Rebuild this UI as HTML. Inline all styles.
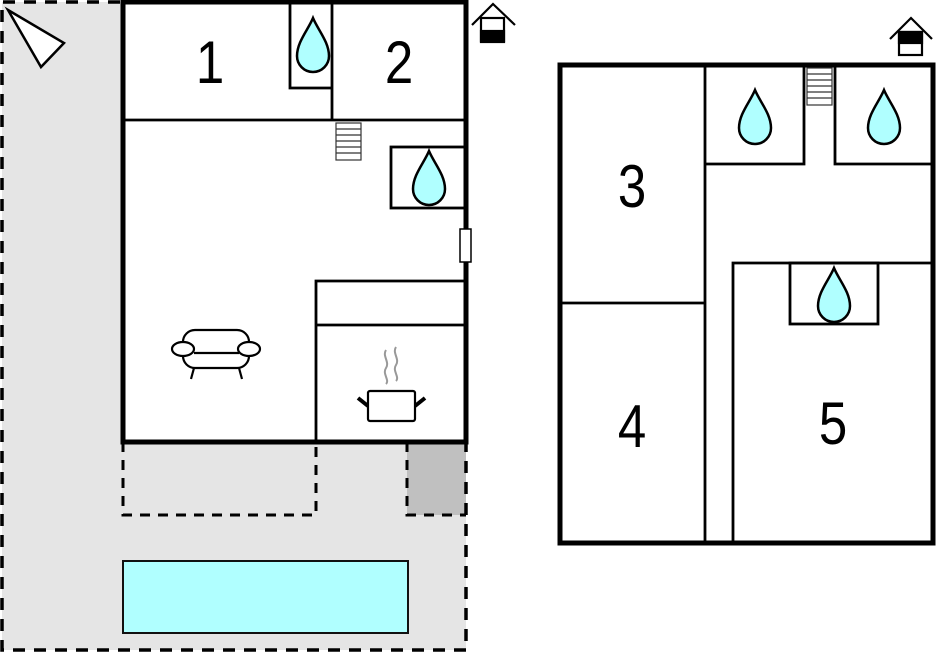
<!DOCTYPE html>
<html><head><meta charset="utf-8"><style>
html,body{margin:0;padding:0;background:#fff;width:936px;height:652px;overflow:hidden}
svg{display:block}
text{font-family:"Liberation Sans",sans-serif;font-size:60px;fill:#000;text-anchor:middle}
</style></head><body>
<svg width="936" height="652" viewBox="0 0 936 652" xmlns="http://www.w3.org/2000/svg">
<defs>
<path id="drop" d="M0,-28 C-5,-16 -16,-4 -16,10 A16,16 0 0 0 16,10 C16,-4 5,-16 0,-28 Z" fill="#b0ffff" stroke="#000" stroke-width="2.5"/>
<g id="stairs" fill="#fff" stroke="#333" stroke-width="1.2">
<rect x="0" y="0" width="25" height="37"/>
<line x1="0" y1="6" x2="25" y2="6"/><line x1="0" y1="12" x2="25" y2="12"/><line x1="0" y1="18" x2="25" y2="18"/><line x1="0" y1="24" x2="25" y2="24"/><line x1="0" y1="30" x2="25" y2="30"/>
</g>
</defs>
<path d="M2,2 H123 V442 H466 V650 H2 Z" fill="#e5e5e5"/>
<rect x="407" y="442" width="59" height="73" fill="#c0c0c0"/>
<path d="M120,2 H2 V650 H466 V442" fill="none" stroke="#000" stroke-width="3.5" stroke-dasharray="12,9"/>
<path d="M123,442 V515 H316 V442" fill="none" stroke="#000" stroke-width="3" stroke-dasharray="10,8"/>
<path d="M407,442 V515 H466" fill="none" stroke="#000" stroke-width="3" stroke-dasharray="10,8"/>
<rect x="123" y="561" width="285" height="72" fill="#b0ffff" stroke="#111" stroke-width="2"/>
<polygon points="8,10 64,43 41,67" fill="#fff" stroke="#000" stroke-width="2.5"/>
<rect x="125" y="4" width="340" height="437" fill="#fff"/>
<g stroke="#000" stroke-width="2.8" fill="none">
<line x1="123" y1="120" x2="466" y2="120"/>
<line x1="332" y1="2" x2="332" y2="120"/>
<path d="M290,2 V88 H332"/>
<rect x="391" y="147" width="74" height="61"/>
<path d="M466,281 H316 V442"/>
<line x1="316" y1="325" x2="466" y2="325"/>
</g>
<use href="#stairs" x="336" y="123"/>
<use href="#drop" x="313" y="46"/>
<use href="#drop" x="429" y="179"/>
<rect x="123" y="2" width="343" height="440" fill="none" stroke="#000" stroke-width="5"/>
<rect x="460" y="229" width="11" height="33" fill="#fff" stroke="#000" stroke-width="1.5"/>
<text transform="translate(210,83) scale(0.85,1)">1</text>
<text transform="translate(399,83) scale(0.85,1)">2</text>
<g fill="#fff" stroke="#000" stroke-width="2.2">
<line x1="194" y1="368" x2="191" y2="379"/><line x1="239" y1="368" x2="242" y2="379"/>
<rect x="183" y="330" width="66" height="38" rx="12"/>
<line x1="194" y1="353" x2="239" y2="353"/>
<ellipse cx="183" cy="349" rx="11" ry="7"/>
<ellipse cx="249" cy="349" rx="11" ry="7"/>
</g>
<g>
<path d="M386,350 c-4,6 4,12 0,18 c-4,6 4,12 0,16 M396,347 c-4,6 4,12 0,18 c-4,6 4,12 0,16" fill="none" stroke="#999" stroke-width="2"/>
<line x1="358" y1="398" x2="368" y2="406" stroke="#000" stroke-width="4"/>
<line x1="425" y1="398" x2="415" y2="406" stroke="#000" stroke-width="4"/>
<rect x="368" y="391" width="47" height="30" rx="2" fill="#fff" stroke="#000" stroke-width="2.2"/>
</g>
<g stroke="#000" stroke-width="2.2" fill="none">
<path d="M472,25 L493,4 L515,25"/>
<rect x="481" y="18" width="23" height="23" fill="#fff"/>
<rect x="481" y="31" width="23" height="11" fill="#000"/>
</g>
<g stroke="#000" stroke-width="2.8" fill="none">
<line x1="560" y1="303" x2="705" y2="303"/>
<line x1="705" y1="65" x2="705" y2="543"/>
<path d="M705,164 H804 V65"/>
<path d="M835,65 V164 H933"/>
<path d="M733,543 V263 H933"/>
<rect x="790" y="263" width="88" height="61"/>
</g>
<use href="#stairs" x="807" y="68"/>
<use href="#drop" x="755" y="118"/>
<use href="#drop" x="884" y="118"/>
<use href="#drop" x="834" y="296"/>
<rect x="560" y="65" width="373" height="478" fill="none" stroke="#000" stroke-width="5"/>
<text transform="translate(632,207) scale(0.85,1)">3</text>
<text transform="translate(632,447) scale(0.85,1)">4</text>
<text transform="translate(833,444) scale(0.85,1)">5</text>
<g stroke="#000" stroke-width="2.2" fill="none">
<path d="M890,39 L911,18 L932,39"/>
<rect x="899" y="32" width="23" height="23" fill="#fff"/>
<rect x="899" y="32" width="23" height="11" fill="#000"/>
</g>
</svg>
</body></html>
